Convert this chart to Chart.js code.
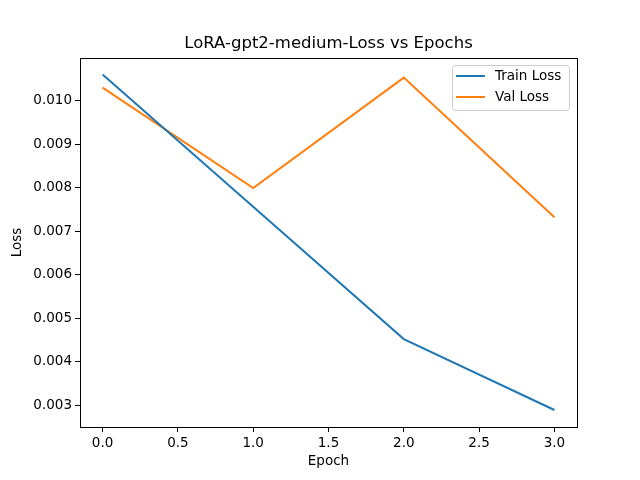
<!DOCTYPE html>
<html>
<head>
<meta charset="utf-8">
<script src="https://cdn.jsdelivr.net/npm/chart.js@4.4.0/dist/chart.umd.min.js"></script>
<style>
  body { margin: 0; background: #fff; }
  #wrap { width: 640px; height: 480px; }
</style>
</head>
<body>
<div id="wrap"><canvas id="grafico"></canvas></div>
<script>
// datos
const epochs = [0, 1, 2, 3];
const trainLoss = [0.0106, 0.00756, 0.00452, 0.00289];
const valLoss = [0.0103, 0.00799, 0.01053, 0.00732];
const xTicks = [0, 0.5, 1, 1.5, 2, 2.5, 3];
const yTicks = [0.003, 0.004, 0.005, 0.006, 0.007, 0.008, 0.009, 0.010];
const seriesNames = ["Train Loss", "Val Loss"];
const colores = ["#1f77b4", "#ff7f0e"];
const titulo = "LoRA-gpt2-medium-Loss vs Epochs";

const FONT = "'DejaVu Sans', sans-serif";

// marco completo y titulo centrado sobre el area (estilo matplotlib)
const marco = {
  id: "marco",
  afterDatasetsDraw(chart) {
    const { ctx, chartArea: a } = chart;
    ctx.save();
    ctx.strokeStyle = "#000";
    ctx.lineWidth = 1;
    ctx.strokeRect(Math.round(a.left) + 0.5, Math.round(a.top) + 0.5,
      Math.round(a.right - a.left), Math.round(a.bottom - a.top));
    ctx.fillStyle = "#000";
    ctx.font = "16.5px " + FONT;
    ctx.textAlign = "center";
    ctx.textBaseline = "middle";
    ctx.fillText(titulo, (a.left + a.right) / 2, 44);
    ctx.restore();
  }
};

// leyenda dentro del grafico, arriba a la derecha
const leyenda = {
  id: "leyenda",
  afterDraw(chart) {
    const { ctx, chartArea: a } = chart;
    const w = 117, h = 45;
    const x = a.right - 8 - w, y = a.top + 7;
    ctx.save();
    ctx.fillStyle = "rgba(255,255,255,0.8)";
    ctx.strokeStyle = "#cccccc";
    ctx.lineWidth = 1;
    ctx.beginPath();
    ctx.roundRect(x + 0.5, y + 0.5, w, h, 3);
    ctx.fill();
    ctx.stroke();
    ctx.font = "13.5px " + FONT;
    ctx.textBaseline = "middle";
    chart.data.datasets.forEach((ds, i) => {
      const cy = y + 11 + i * 21;
      ctx.strokeStyle = ds.borderColor;
      ctx.lineWidth = 2;
      ctx.beginPath();
      ctx.moveTo(x + 4, cy);
      ctx.lineTo(x + 33, cy);
      ctx.stroke();
      ctx.fillStyle = "#000";
      ctx.fillText(ds.label, x + 43, cy);
    });
    ctx.restore();
  }
};

new Chart(document.getElementById("grafico"), {
  type: "line",
  data: {
    labels: epochs,
    datasets: [
      {
        label: seriesNames[0],
        data: epochs.map((e, i) => ({ x: e, y: trainLoss[i] })),
        borderColor: colores[0],
        borderWidth: 2,
        pointRadius: 0,
        tension: 0
      },
      {
        label: seriesNames[1],
        data: epochs.map((e, i) => ({ x: e, y: valLoss[i] })),
        borderColor: colores[1],
        borderWidth: 2,
        pointRadius: 0,
        tension: 0
      }
    ]
  },
  options: {
    responsive: true,
    maintainAspectRatio: false,
    animation: false,
    layout: { padding: { left: 0, right: 63, top: 58, bottom: 0 } },
    plugins: {
      legend: { display: false },
      tooltip: { enabled: false },
      title: { display: false }
    },
    scales: {
      x: {
        type: "linear",
        min: -0.15,
        max: 3.15,
        afterBuildTicks: s => { s.ticks = xTicks.map(v => ({ value: v })); },
        afterFit: s => { s.height = 53; },
        ticks: {
          color: "#000",
          font: { family: FONT, size: 13.5 },
          padding: 3,
          maxRotation: 0,
          callback: v => v.toFixed(1)
        },
        grid: { drawOnChartArea: false, drawTicks: true, tickLength: 5, color: "#000" },
        border: { display: true, color: "#000", width: 1 },
        title: {
          display: true,
          text: "Epoch",
          color: "#000",
          font: { family: FONT, size: 13.5 },
          padding: { top: 0, bottom: 10 }
        }
      },
      y: {
        min: 0.0025,
        max: 0.01098,
        afterBuildTicks: s => { s.ticks = yTicks.map(v => ({ value: v })); },
        afterFit: s => { s.width = 80; },
        ticks: {
          color: "#000",
          font: { family: FONT, size: 13.5 },
          padding: 3,
          callback: v => v.toFixed(3)
        },
        grid: { drawOnChartArea: false, drawTicks: true, tickLength: 5, color: "#000" },
        border: { display: true, color: "#000", width: 1 },
        title: {
          display: true,
          text: "Loss",
          color: "#000",
          font: { family: FONT, size: 13.5 },
          padding: { top: 9, bottom: 0 }
        }
      }
    }
  },
  plugins: [marco, leyenda]
});
</script>
</body>
</html>
